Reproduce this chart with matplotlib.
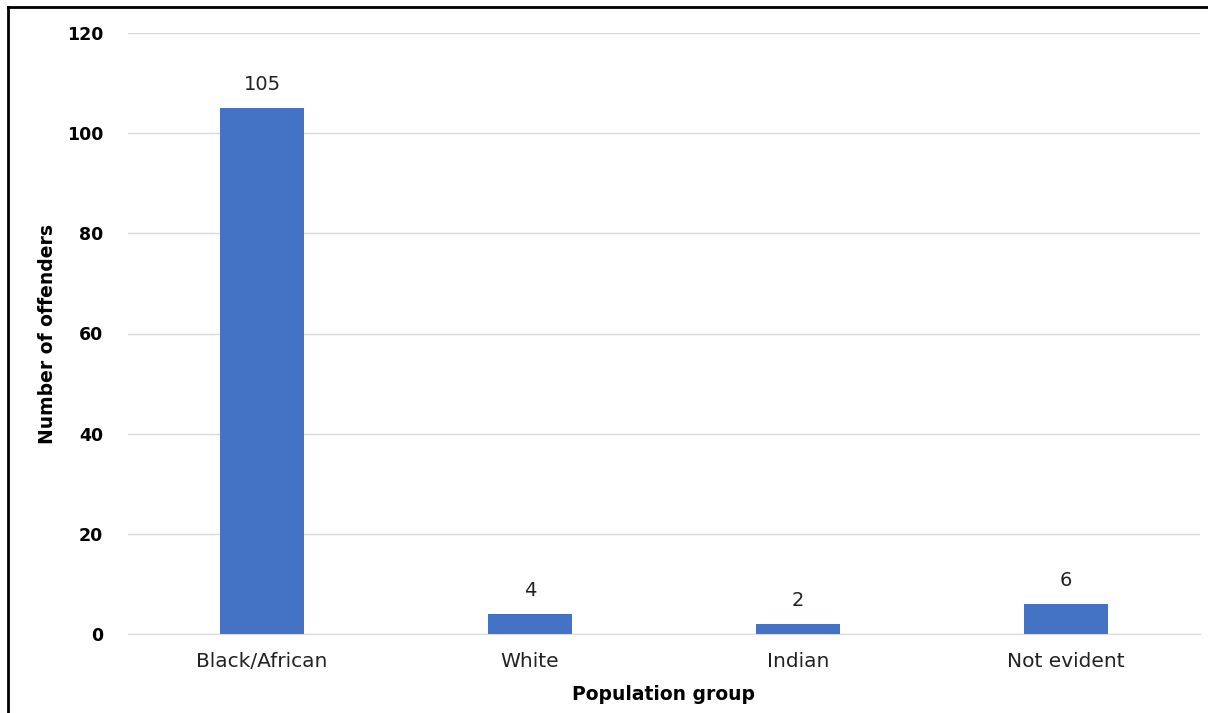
import matplotlib
matplotlib.use("Agg")
import matplotlib.pyplot as plt
from matplotlib.lines import Line2D

categories = ["Black/African", "White", "Indian", "Not evident"]
values = [105, 4, 2, 6]
yticks = [0, 20, 40, 60, 80, 100, 120]

plt.rcParams['font.family'] = ['DejaVu Sans']

fig = plt.figure(figsize=(12.08, 7.13), dpi=100)
ax = fig.add_axes([128/1208, 1-634/713, (1200-128)/1208, (634-33)/713])

x = range(len(categories))
bars = ax.bar(x, values, width=0.31, color="#4472C4", zorder=3)
for xi, v in zip(x, values):
    ax.annotate(str(v), (xi, v), xytext=(0, 10), textcoords="offset points",
                ha="center", va="bottom", fontsize=14, color="#222222")

ax.set_xlim(-0.5, len(categories)-0.5)
ax.set_ylim(0, 120)
ax.set_yticks(yticks)
ax.set_yticklabels([str(t) for t in yticks], fontsize=12.5, fontweight="bold")
ax.set_xticks(list(x))
ax.set_xticklabels(categories, fontsize=14.5, color="#222222")
ax.tick_params(axis="both", length=0)
ax.tick_params(axis="y", pad=18)
ax.tick_params(axis="x", pad=13)
ax.grid(axis="y", color="#d9d9d9", linewidth=1, zorder=0)
for s in ["top", "right", "left"]:
    ax.spines[s].set_visible(False)
ax.spines["bottom"].set_color("#d9d9d9")
ax.set_ylabel("Number of offenders", fontsize=13.5, fontweight="bold", labelpad=7)
ax.set_xlabel("Population group", fontsize=13.5, fontweight="bold", labelpad=10)

# outer frame (left and top edges visible)
fig.add_artist(Line2D([8/1208, 8/1208], [0, 1-7/713], transform=fig.transFigure, color="black", linewidth=2))
fig.add_artist(Line2D([8/1208, 1], [1-7/713, 1-7/713], transform=fig.transFigure, color="black", linewidth=2))

fig.savefig("out.png", dpi=100)
